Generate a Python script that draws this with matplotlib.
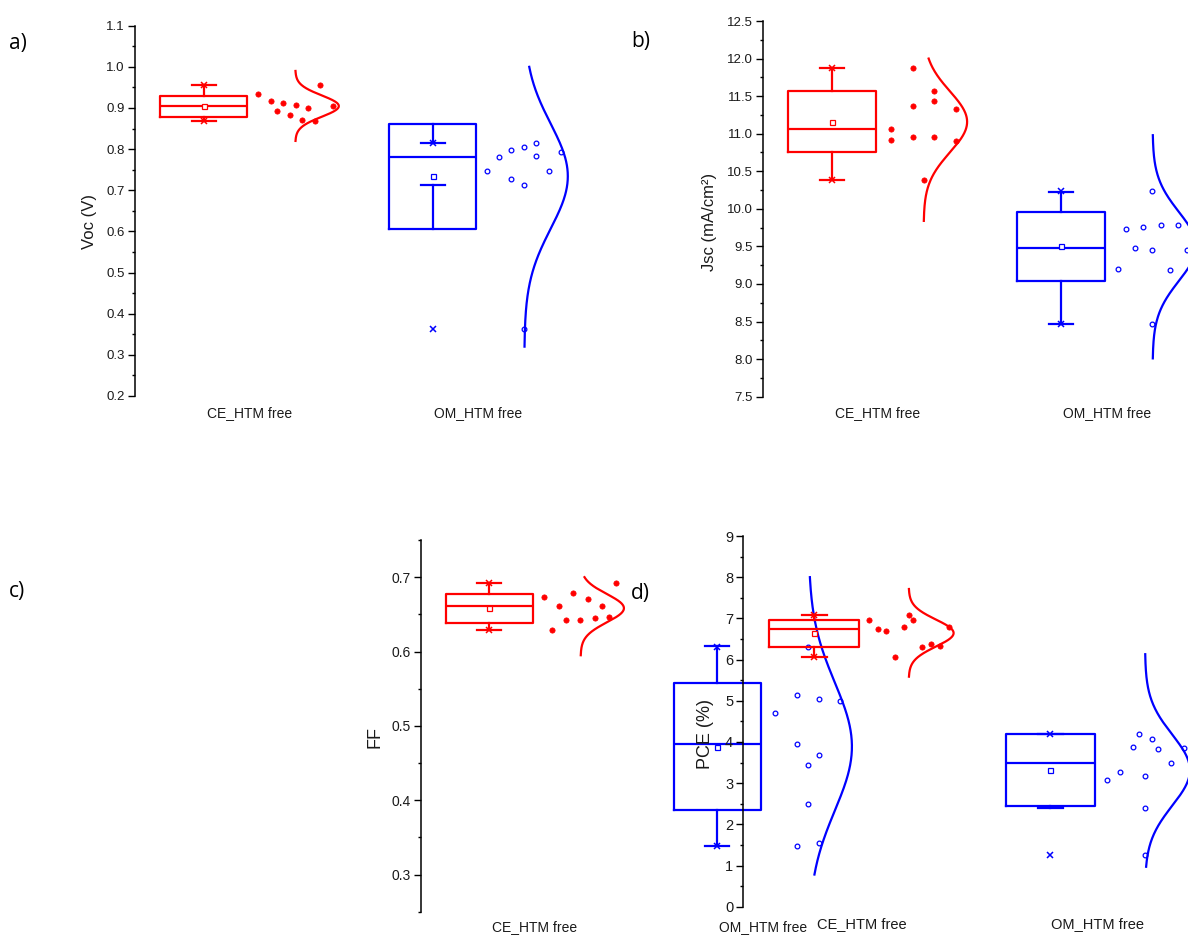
import numpy as np
import matplotlib
matplotlib.use("Agg")
import matplotlib.pyplot as plt
from matplotlib.ticker import MultipleLocator, FormatStrFormatter

plt.rcParams['font.family'] = ['Liberation Sans', 'DejaVu Sans']

groups = ["CE_HTM free", "OM_HTM free"]

# ---- device values ----
voc_ce = [0.933, 0.918, 0.893, 0.913, 0.883, 0.907, 0.872, 0.900, 0.869, 0.957, 0.906]
voc_om = [0.748, 0.782, 0.799, 0.727, 0.805, 0.713, 0.363, 0.816, 0.784, 0.747, 0.792]
jsc_ce = [11.058, 10.921, 11.874, 11.369, 10.952, 10.384, 11.564, 11.440, 10.956, 11.324, 10.898]
jsc_om = [9.195, 9.727, 9.479, 9.754, 10.233, 9.448, 8.463, 9.785, 9.186, 9.785, 9.448]
ff_ce = [0.673, 0.629, 0.661, 0.642, 0.679, 0.643, 0.670, 0.645, 0.661, 0.646, 0.692]
ff_om = [0.517, 0.541, 0.476, 0.3385, 0.6066, 0.4477, 0.3947, 0.5357, 0.4607, 0.3426, 0.533]
pce_ce = [6.953, 6.742, 6.686, 6.054, 6.791, 7.090, 6.961, 6.313, 6.378, 6.329, 6.783]
pce_om = [3.068, 3.262, 3.885, 4.193, 3.173, 2.388, 1.255, 4.072, 3.829, 3.481, 3.861]

# ---- box statistics: q1, median, q3, lower whisker, upper whisker ----
voc_box_ce = [0.879, 0.906, 0.930, 0.869, 0.957]
voc_box_om = [0.606, 0.782, 0.862, 0.713, 0.816]
jsc_box_ce = [10.752, 11.063, 11.568, 10.384, 11.874]
jsc_box_om = [9.044, 9.479, 9.958, 8.463, 10.228]
ff_box_ce = [0.639, 0.661, 0.6775, 0.629, 0.692]
ff_box_om = [0.387, 0.476, 0.558, 0.3385, 0.607]
pce_box_ce = [6.31, 6.74, 6.968, 6.058, 7.08]
pce_box_om = [2.453, 3.48, 4.185, 2.397, 4.19]

# ---- value range covered by each normal-distribution curve ----
voc_curve_ce = [0.82, 0.99]
voc_curve_om = [0.32, 1.00]
jsc_curve_ce = [9.84, 12.0]
jsc_curve_om = [8.01, 10.98]
ff_curve_ce = [0.595, 0.700]
ff_curve_om = [0.300, 0.700]
pce_curve_ce = [5.585, 7.713]
pce_curve_om = [0.97, 6.13]

# ---- layout: horizontal jitter of the points (fraction of category spacing) ----
voc_jit_ce = [0.038, 0.093, 0.121, 0.147, 0.175, 0.202, 0.228, 0.256, 0.284, 0.310, 0.364]
voc_jit_om = [0.037, 0.090, 0.144, 0.144, 0.200, 0.200, 0.200, 0.253, 0.253, 0.307, 0.361]
jsc_jit_ce = [0.057, 0.057, 0.152, 0.152, 0.152, 0.200, 0.246, 0.246, 0.246, 0.341, 0.341]
jsc_jit_om = [0.048, 0.085, 0.122, 0.160, 0.198, 0.198, 0.198, 0.236, 0.275, 0.312, 0.349]
ff_jit_ce = [0.041, 0.073, 0.105, 0.137, 0.168, 0.199, 0.231, 0.263, 0.295, 0.326, 0.357]
ff_jit_om = [0.054, 0.149, 0.149, 0.149, 0.196, 0.196, 0.196, 0.244, 0.244, 0.244, 0.339]
pce_jit_ce = [0.031, 0.068, 0.106, 0.144, 0.182, 0.202, 0.220, 0.258, 0.296, 0.334, 0.372]
pce_jit_om = [0.040, 0.095, 0.148, 0.175, 0.202, 0.202, 0.202, 0.230, 0.257, 0.311, 0.366]

RED = "#FF0000"
BLUE = "#0000FF"
TXT = "#1a1a1a"
W, H = 1188, 936

fig = plt.figure(figsize=(W / 100, H / 100), dpi=100)
fig.patch.set_facecolor("white")


def axes_px(left, top, width, bottom):
    a = fig.add_axes([left / W, 1 - bottom / H, width / W, (bottom - top) / H])
    a.patch.set_alpha(0)
    return a


def panel(ax, vals, boxes, curves, jits, ylim, major, minor, fmt, ylabel,
          lab_xy, fs_tick, fs_cat, fs_lab, cat_pad):
    colors = [RED, BLUE]
    for i in range(2):
        pos = i + 1
        c = colors[i]
        v = np.asarray(vals[i])
        q1, med, q3, wlo, whi = boxes[i]
        st = dict(q1=q1, med=med, q3=q3, whislo=wlo, whishi=whi,
                  mean=float(np.mean(v)), fliers=[])
        lw = 1.6
        ax.bxp([st], positions=[pos - 0.2], widths=0.38, capwidths=[0.105],
               showmeans=True, showfliers=False, manage_ticks=False,
               boxprops=dict(color=c, lw=lw), whiskerprops=dict(color=c, lw=lw),
               capprops=dict(color=c, lw=lw), medianprops=dict(color=c, lw=lw),
               meanprops=dict(marker='s', mfc='white', mec=c, ms=3.6, mew=0.9))
        ax.plot([pos - 0.2, pos - 0.2], [v.min(), v.max()], ls='none', marker='x',
                color=c, ms=4.5, mew=1.1)
        xs = pos + np.asarray(jits[i])
        if i == 0:
            ax.plot(xs, v, ls='none', marker='o', ms=3.8, mfc=c, mec=c, mew=0.5)
        else:
            ax.plot(xs, v, ls='none', marker='o', ms=3.4, mfc='none', mec=c, mew=0.9)
        m, s = v.mean(), v.std(ddof=1)
        y = np.linspace(curves[i][0], curves[i][1], 300)
        x = pos + 0.2 + 0.19 * np.exp(-0.5 * ((y - m) / s) ** 2)
        ax.plot(x, y, color=c, lw=1.6)

    ax.set_xlim(0.5, 2.5)
    ax.set_ylim(*ylim)
    ax.set_xticks([1, 2])
    ax.set_xticklabels(groups, fontsize=fs_cat, color=TXT)
    ax.tick_params(axis='x', length=0, pad=cat_pad)
    ax.yaxis.set_major_locator(MultipleLocator(major))
    ax.yaxis.set_minor_locator(MultipleLocator(minor))
    ax.yaxis.set_major_formatter(FormatStrFormatter(fmt))
    ax.tick_params(axis='y', which='major', direction='out', length=4.8, width=1.0,
                   labelsize=fs_tick, labelcolor=TXT, pad=2.5)
    ax.tick_params(axis='y', which='minor', direction='out', length=2.4, width=1.0)
    for sp in ['top', 'right', 'bottom']:
        ax.spines[sp].set_visible(False)
    ax.spines['left'].set_linewidth(1.1)
    ax.set_ylabel(ylabel, fontsize=fs_lab, color=TXT, va='center')
    ax.yaxis.set_label_coords(*lab_xy)


ax_a = axes_px(135, 25.7, 458, 396)
panel(ax_a, [voc_ce, voc_om], [voc_box_ce, voc_box_om], [voc_curve_ce, voc_curve_om],
      [voc_jit_ce, voc_jit_om], (0.2, 1.1), 0.1, 0.05, '%.1f', 'Voc (V)',
      (-0.100, 0.471), 9.5, 10, 12, 7.0)

ax_b = axes_px(763.3, 21, 458, 396.7)
panel(ax_b, [jsc_ce, jsc_om], [jsc_box_ce, jsc_box_om], [jsc_curve_ce, jsc_curve_om],
      [jsc_jit_ce, jsc_jit_om], (7.5, 12.5), 0.5, 0.25, '%.1f', 'Jsc (mA/cm²)',
      (-0.117, 0.466), 9.5, 10, 12, 7.0)

ax_c = axes_px(421, 540, 456, 911.7)
panel(ax_c, [ff_ce, ff_om], [ff_box_ce, ff_box_om], [ff_curve_ce, ff_curve_om],
      [ff_jit_ce, ff_jit_om], (0.25, 0.75), 0.1, 0.05, '%.1f', 'FF',
      (-0.101, 0.47), 10, 10, 13, 6.0)

ax_d = axes_px(743.3, 536, 472.6, 906.7)
panel(ax_d, [pce_ce, pce_om], [pce_box_ce, pce_box_om], [pce_curve_ce, pce_curve_om],
      [pce_jit_ce, pce_jit_om], (0, 9), 1, 0.5, '%d', 'PCE (%)',
      (-0.081, 0.466), 10.5, 10.5, 13, 7.5)

for lab, x, y in [("a)", 9, 43), ("b)", 631, 42), ("c)", 9, 592), ("d)", 631, 593)]:
    fig.text(x / W, 1 - y / H, lab, fontsize=15, family=['Open Sans', 'DejaVu Sans'],
             ha='left', va='center', color='black')

fig.savefig("out.png", dpi=100)
